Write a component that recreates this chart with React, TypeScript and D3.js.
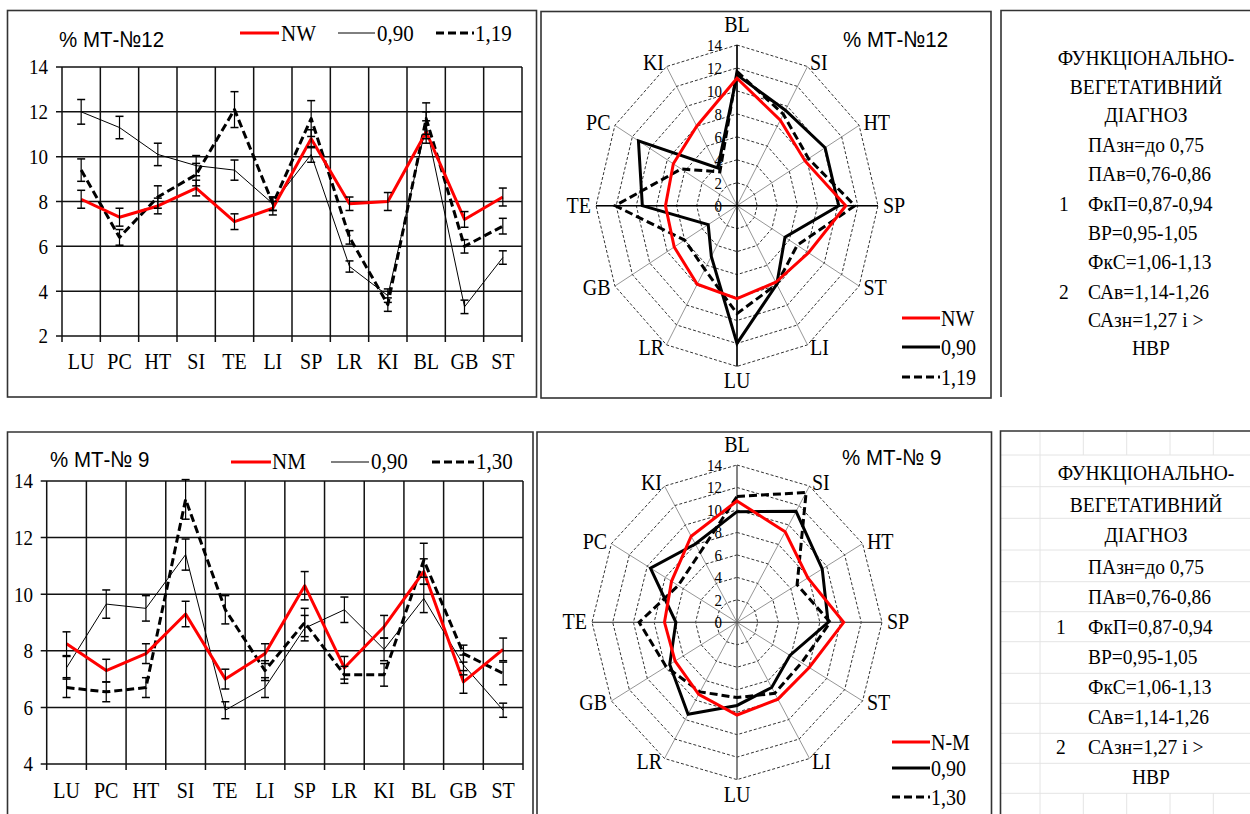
import * as d3 from 'd3';
import type { ReactNode } from 'react';

const lineCats = ['LU', 'PC', 'HT', 'SI', 'TE', 'LI', 'SP', 'LR', 'KI', 'BL', 'GB', 'ST'];
const radarCats = ['BL', 'SI', 'HT', 'SP', 'ST', 'LI', 'LU', 'LR', 'GB', 'TE', 'PC', 'KI'];

// % МТ-№12
const nw12 = [8.1, 7.3, 7.8, 8.6, 7.1, 7.7, 10.8, 7.9, 8.0, 11.1, 7.2, 8.2];
const nw12Err = [0.4, 0.4, 0.35, 0.35, 0.35, 0.3, 0.4, 0.3, 0.4, 0.5, 0.35, 0.4];
const v090of12 = [12.0, 11.3, 10.1, 9.6, 9.4, 7.9, 10.1, 5.1, 3.8, 11.4, 3.3, 5.5];
const v090of12Err = [0.55, 0.5, 0.5, 0.45, 0.45, 0.3, 0.35, 0.25, 0.3, 0.6, 0.3, 0.3];
const v119of12 = [9.4, 6.4, 8.2, 9.2, 12.1, 7.9, 11.7, 6.4, 3.4, 11.7, 6.0, 6.9];
const v119of12Err = [0.5, 0.35, 0.5, 0.5, 0.8, 0.3, 0.8, 0.3, 0.3, 0.7, 0.3, 0.35];

// % МТ-№ 9
const nm9 = [8.25, 7.3, 7.9, 9.3, 7.0, 7.9, 10.3, 7.4, 8.85, 10.8, 6.9, 8.05];
const nm9Err = [0.42, 0.4, 0.35, 0.45, 0.35, 0.35, 0.5, 0.4, 0.4, 0.45, 0.4, 0.4];
const v090of9 = [7.4, 9.65, 9.5, 11.4, 5.9, 6.7, 8.8, 9.45, 8.05, 9.85, 7.5, 5.9];
const v090of9Err = [0.4, 0.5, 0.45, 0.55, 0.3, 0.35, 0.45, 0.45, 0.4, 0.5, 0.35, 0.25];
const v130of9 = [6.7, 6.55, 6.7, 13.35, 9.45, 7.3, 9.0, 7.15, 7.15, 11.2, 7.9, 7.2];
const v130of9Err = [0.35, 0.35, 0.35, 0.7, 0.5, 0.35, 0.5, 0.3, 0.4, 0.6, 0.3, 0.4];

const diagnosisTop = [
  { num: '', text: 'ПАзн=до 0,75' },
  { num: '', text: 'ПАв=0,76-0,86' },
  { num: '1', text: 'ФкП=0,87-0,94' },
  { num: '', text: 'ВР=0,95-1,05' },
  { num: '', text: 'ФкС=1,06-1,13' },
  { num: '2', text: 'САв=1,14-1,26' },
  { num: '', text: 'САзн=1,27 і >' },
];
const diagnosisBottom = [
  { num: '', text: 'ПАзн=до 0,75' },
  { num: '', text: 'ПАв=0,76-0,86' },
  { num: '1', text: 'ФкП=0,87-0,94' },
  { num: '', text: 'ВР=0,95-1,05' },
  { num: '', text: 'ФкС=1,06-1,13' },
  { num: '', text: 'САв=1,14-1,26' },
  { num: '2', text: 'САзн=1,27 і >' },
];
const headerLines = ['ФУНКЦІОНАЛЬНО-', 'ВЕГЕТАТИВНИЙ', 'ДІАГНОЗ'];

const SERIF = '"Liberation Serif", "DejaVu Serif", serif';
const SANS = '"Liberation Sans", Arial, sans-serif';

// text a bit taller than wide, like the scanned figure
const T = ({ x, y, size, anchor = 'start', dy, sans, children }: {
  x: number; y: number; size: number; anchor?: string; dy?: string; sans?: boolean; children: ReactNode;
}) => (
  <text transform={`translate(${x},${y}) scale(1,1.12)`} textAnchor={anchor} dy={dy}
    fontFamily={sans ? SANS : SERIF} fontSize={size} fill="#000">{children}</text>
);

type Kind = 'red' | 'thin' | 'dash';
interface Series {
  name: string;
  values: number[];
  errors: number[];
  kind: Kind;
}

const styleOf = (kind: Kind, radar: boolean) => {
  if (kind === 'red') return { stroke: '#ff0000', width: 3, dash: undefined as string | undefined };
  if (kind === 'dash') return { stroke: '#000', width: 3, dash: '8,4' };
  return { stroke: '#000', width: radar ? 3 : 1, dash: undefined as string | undefined };
};

const drawOrder: Kind[] = ['thin', 'dash', 'red'];

interface LegendPos { x1: number; x2: number; tx: number }

interface LineProps {
  left: number; right: number; top: number; bottom: number;
  yMin: number; yMax: number;
  series: Series[];
  title: string; titleX: number; titleY: number;
  legendY: number; legendTextY: number; legendPos: LegendPos[];
  catLabelY: number; yLabelX: number;
}

const LineChart = (p: LineProps) => {
  const x = d3.scaleBand<string>().domain(lineCats).range([p.left, p.right]);
  const y = d3.scaleLinear().domain([p.yMin, p.yMax]).range([p.bottom, p.top]);
  const ticks = d3.range(p.yMin, p.yMax + 0.01, 2);
  const cx = (i: number) => (x(lineCats[i]) as number) + x.bandwidth() / 2;
  const line = d3.line<number>().x((_, i) => cx(i)).y(d => y(d));
  const bounds = lineCats.map(c => x(c) as number).concat([p.right]);
  const ordered = drawOrder.map(k => p.series.find(s => s.kind === k)!).filter(Boolean);

  return (
    <g>
      {/* horizontal gridlines */}
      {ticks.map(t => (
        <g key={t}>
          <line x1={p.left - 6} x2={p.right} y1={y(t)} y2={y(t)} stroke="#111" strokeWidth={1.5} />
          <T x={p.yLabelX} y={y(t)} dy="0.35em" anchor="end" size={19}>{t}</T>
        </g>
      ))}
      {/* vertical gridlines */}
      {bounds.map((b, i) => (
        <line key={i} x1={b} x2={b} y1={p.top} y2={p.bottom + 6} stroke="#111" strokeWidth={1.5} />
      ))}
      {lineCats.map((c, i) => (
        <T key={c} x={cx(i)} y={p.catLabelY} anchor="middle" size={20}>{c}</T>
      ))}
      {ordered.map(s => {
        const st = styleOf(s.kind, false);
        return (
          <path key={s.name} d={line(s.values) || undefined} fill="none" stroke={st.stroke}
            strokeWidth={st.width} strokeDasharray={st.dash} strokeLinejoin="round" />
        );
      })}
      {ordered.map(s => (
        <g key={s.name + '-err'}>
          {s.values.map((v, i) => (
            <g key={i}>
              <line x1={cx(i)} x2={cx(i)} y1={y(v - s.errors[i])} y2={y(v + s.errors[i])} stroke="#000" strokeWidth={1.2} />
              <line x1={cx(i) - 4} x2={cx(i) + 4} y1={y(v - s.errors[i])} y2={y(v - s.errors[i])} stroke="#000" strokeWidth={1.5} />
              <line x1={cx(i) - 4} x2={cx(i) + 4} y1={y(v + s.errors[i])} y2={y(v + s.errors[i])} stroke="#000" strokeWidth={1.5} />
            </g>
          ))}
        </g>
      ))}
      <T x={p.titleX} y={p.titleY} size={20.5} sans>{p.title}</T>
      {p.series.map((s, i) => {
        const st = styleOf(s.kind, false);
        const lp = p.legendPos[i];
        return (
          <g key={'lg' + s.name}>
            <line x1={lp.x1} x2={lp.x2} y1={p.legendY} y2={p.legendY} stroke={st.stroke}
              strokeWidth={st.width} strokeDasharray={st.dash} />
            <T x={lp.tx} y={p.legendTextY} size={21}>{s.name}</T>
          </g>
        );
      })}
    </g>
  );
};

interface RadarProps {
  cx: number; cy: number; rx: number; ry: number;
  series: Series[];
  axisColor: string; axisWidth: number;
  title: string; titleX: number; titleY: number;
  legendLabels: string[]; legendX1: number; legendX2: number; legendYs: number[];
}

const Radar = (p: RadarProps) => {
  const sx = d3.scaleLinear().domain([0, 14]).range([0, p.rx]);
  const sy = d3.scaleLinear().domain([0, 14]).range([0, p.ry]);
  const ang = d3.scaleLinear().domain([0, radarCats.length]).range([0, 2 * Math.PI]);
  const pt = (i: number, v: number): [number, number] => [
    p.cx + sx(v) * Math.sin(ang(i)),
    p.cy - sy(v) * Math.cos(ang(i)),
  ];
  const rings = d3.range(2, 14.01, 2);
  const ticks = d3.range(0, 14.01, 2);
  const closed = d3.line().curve(d3.curveLinearClosed);
  const valueOf = (s: Series, cat: string) => s.values[lineCats.indexOf(cat)];
  const ordered = drawOrder.map(k => p.series.find(s => s.kind === k)!).filter(Boolean);

  return (
    <g>
      {radarCats.map((c, i) => {
        const [x2, y2] = pt(i, 14);
        return <line key={'r' + c} x1={p.cx} y1={p.cy} x2={x2} y2={y2} stroke="#8a8a8a" strokeWidth={0.9} />;
      })}
      {rings.map(r => (
        <path key={'ring' + r} d={closed(radarCats.map((_, i) => pt(i, r))) || undefined}
          fill="none" stroke="#333" strokeWidth={1} strokeDasharray="3,2" />
      ))}
      <line x1={p.cx} x2={p.cx} y1={p.cy - p.ry} y2={p.cy + p.ry} stroke={p.axisColor} strokeWidth={p.axisWidth} />
      <line x1={p.cx - p.rx} x2={p.cx + p.rx} y1={p.cy} y2={p.cy} stroke={p.axisColor} strokeWidth={p.axisWidth} />
      {ticks.map(t => (
        <T key={'t' + t} x={p.cx - 15} y={p.cy - sy(t)} dy="0.35em" anchor="end" size={15}>{t}</T>
      ))}
      {radarCats.map((c, i) => {
        const a = ang(i);
        const [vx, vy] = pt(i, 14);
        const s = Math.sin(a);
        const co = Math.cos(a);
        let anchor = 'middle';
        if (s > 0.01) anchor = 'start';
        if (s < -0.01) anchor = 'end';
        let tx = vx + 5 * s;
        let ty = vy - 4 * co + 7;
        if (c === 'BL') { tx = vx; ty = vy - 13; }
        if (c === 'LU') { tx = vx; ty = vy + 22; }
        return <T key={'lab' + c} x={tx} y={ty} anchor={anchor} size={20}>{c}</T>;
      })}
      {ordered.map(s => {
        const st = styleOf(s.kind, true);
        return (
          <path key={s.name} d={closed(radarCats.map((c, i) => pt(i, valueOf(s, c)))) || undefined}
            fill="none" stroke={st.stroke} strokeWidth={st.width} strokeDasharray={st.dash} strokeLinejoin="miter" />
        );
      })}
      <T x={p.titleX} y={p.titleY} size={20.5} sans>{p.title}</T>
      {p.series.map((s, i) => {
        const st = styleOf(s.kind, true);
        return (
          <g key={'lg' + i}>
            <line x1={p.legendX1} x2={p.legendX2} y1={p.legendYs[i]} y2={p.legendYs[i]} stroke={st.stroke}
              strokeWidth={st.width} strokeDasharray={st.dash} />
            <T x={p.legendX2 + 1} y={p.legendYs[i]} dy="0.35em" size={20}>{p.legendLabels[i]}</T>
          </g>
        );
      })}
    </g>
  );
};

const DiagnosisBox = ({ baselines, rows, centerX, textX, numX }: {
  baselines: number[]; rows: { num: string; text: string }[];
  centerX: number; textX: number; numX: number;
}) => (
  <g>
    {headerLines.map((h, i) => (
      <T key={h} x={centerX} y={baselines[i]} anchor="middle" size={19.5}>{h}</T>
    ))}
    {rows.map((r, i) => (
      <g key={r.text}>
        {r.num && <T x={numX} y={baselines[i + 3]} size={19.5}>{r.num}</T>}
        <T x={textX} y={baselines[i + 3]} size={19.5}>{r.text}</T>
      </g>
    ))}
    <T x={centerX + 5} y={baselines[10]} anchor="middle" size={19.5}>НВР</T>
  </g>
);

const App = () => {
  const series12: Series[] = [
    { name: 'NW', values: nw12, errors: nw12Err, kind: 'red' },
    { name: '0,90', values: v090of12, errors: v090of12Err, kind: 'thin' },
    { name: '1,19', values: v119of12, errors: v119of12Err, kind: 'dash' },
  ];
  const series9: Series[] = [
    { name: 'NM', values: nm9, errors: nm9Err, kind: 'red' },
    { name: '0,90', values: v090of9, errors: v090of9Err, kind: 'thin' },
    { name: '1,30', values: v130of9, errors: v130of9Err, kind: 'dash' },
  ];
  const topBaselines = [65, 94, 122, 152, 181, 211, 240, 268.5, 298.5, 327, 355];
  const botBaselines = [480, 512, 542, 573.5, 603.5, 633.5, 663.5, 693.5, 723.5, 753.5, 783.5];
  const sheetRows = [455, 486.7, 518.3, 550, 581.7, 611.7, 641.7, 673.3, 703.3, 733.3, 763.3, 793.3];
  const sheetCols = [1083.3, 1126.7, 1170, 1213.3];

  return (
    <svg width={1250} height={814} style={{ position: 'absolute', left: 0, top: 0, background: '#fff' }}>
      <rect width={1250} height={814} fill="#fff" />

      {/* spreadsheet grid behind bottom-right box */}
      <g stroke="#e4e4e4" strokeWidth={1}>
        {sheetRows.map(r => <line key={r} x1={1000} x2={1250} y1={r} y2={r} />)}
        <line x1={1040} x2={1040} y1={431} y2={814} />
        {sheetCols.map(c => <line key={c} x1={c} x2={c} y1={431} y2={455} />)}
        {sheetCols.map(c => <line key={'b' + c} x1={c} x2={c} y1={793} y2={814} />)}
      </g>

      {/* panel frames */}
      <g fill="none" stroke="#333" strokeWidth={1.6}>
        <rect x={7.5} y={10.5} width={529} height={386.5} />
        <rect x={541} y={11.5} width={450} height={386.5} />
        <path d="M1252,10.5 H1001 V397" />
        <path d="M7.5,820 V432 H533 V820" />
        <path d="M537,820 V432 H991.5 V820" />
        <path d="M1252,431 H1000.5 V820" />
      </g>

      <LineChart left={62} right={522} top={67} bottom={336} yMin={2} yMax={14} series={series12}
        title="% МТ-№12" titleX={59} titleY={47}
        legendY={33} legendTextY={41}
        legendPos={[{ x1: 240, x2: 279, tx: 281 }, { x1: 338, x2: 375, tx: 377 }, { x1: 436, x2: 474, tx: 475 }]}
        catLabelY={369} yLabelX={48} />

      <LineChart left={46.7} right={523} top={481} bottom={764} yMin={4} yMax={14} series={series9}
        title="% МТ-№ 9" titleX={50} titleY={467}
        legendY={462} legendTextY={469}
        legendPos={[{ x1: 231, x2: 271, tx: 272 }, { x1: 331, x2: 369, tx: 371 }, { x1: 432, x2: 474, tx: 476 }]}
        catLabelY={798} yLabelX={33} />

      <Radar cx={737} cy={205.7} rx={141} ry={160.7} series={series12} axisColor="#000" axisWidth={1.6}
        title="% МТ-№12" titleX={843} titleY={47}
        legendLabels={['NW', '0,90', '1,19']} legendX1={902} legendX2={940} legendYs={[318, 347, 377]} />

      <Radar cx={737} cy={622.3} rx={145} ry={157.3} series={series9} axisColor="#555" axisWidth={1.2}
        title="% МТ-№ 9" titleX={842} titleY={465}
        legendLabels={['N-M', '0,90', '1,30']} legendX1={892} legendX2={930} legendYs={[742, 768, 797]} />

      <DiagnosisBox baselines={topBaselines} rows={diagnosisTop} centerX={1146} textX={1088} numX={1059} />
      <DiagnosisBox baselines={botBaselines} rows={diagnosisBottom} centerX={1146} textX={1088} numX={1056} />
    </svg>
  );
};

export default App;
